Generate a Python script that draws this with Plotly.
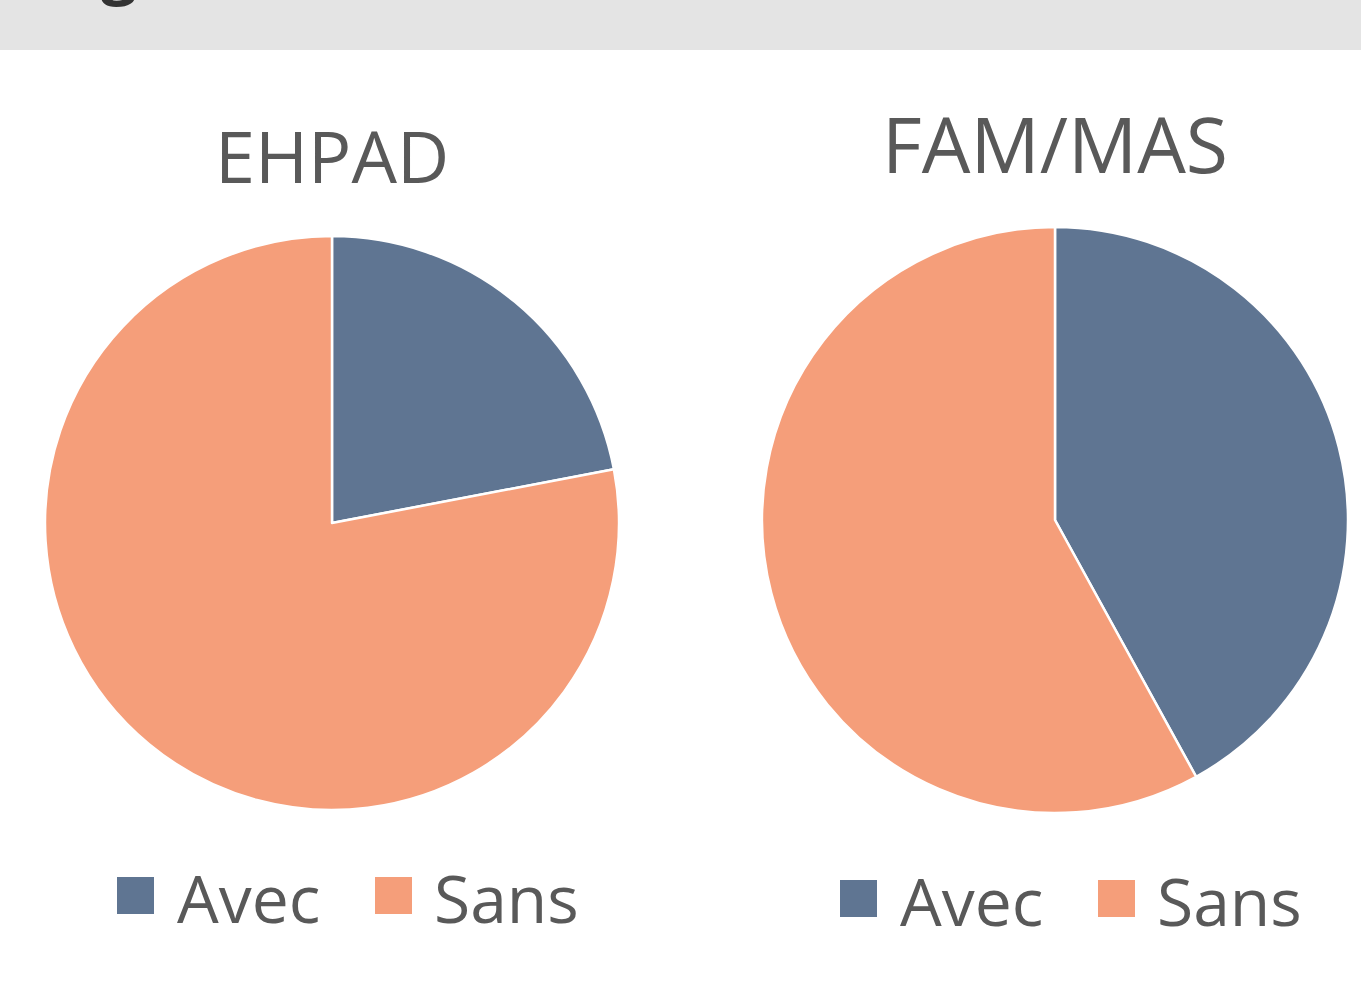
import plotly.graph_objects as go

W, H = 1361, 1002

labels = ["Avec", "Sans"]
titles = ["EHPAD", "FAM/MAS"]
ehpad_values = [22, 78]
fammas_values = [42, 58]
colors = ["#5f7592", "#f59e7a"]
text_color = "#595959"
FONT = "Open Sans"

def px_x(x):
    return x / W

def px_y(y):
    return 1 - y / H

fig = go.Figure()

# pie geometry in pixels: (cx, cy, r)
pies = [
    (titles[0], ehpad_values, (332, 523, 287)),
    (titles[1], fammas_values, (1055, 520, 293)),
]
for name, vals, (cx, cy, r) in pies:
    fig.add_trace(go.Pie(
        labels=labels, values=vals, name=name,
        sort=False, direction="clockwise", rotation=0,
        marker=dict(colors=colors, line=dict(color="white", width=2.5)),
        textinfo="none", hoverinfo="label+percent",
        showlegend=False,
        domain=dict(x=[px_x(cx - r), px_x(cx + r)], y=[px_y(cy + r), px_y(cy - r)]),
    ))

shapes = [
    dict(type="rect", xref="paper", yref="paper", x0=0, x1=1, y0=px_y(50), y1=1.01,
         fillcolor="#e4e4e4", line=dict(width=0), layer="below"),
]
annotations = [
    dict(text="<b>g</b>", x=px_x(119), y=px_y(12), xref="paper", yref="paper",
         xanchor="center", yanchor="bottom", showarrow=False,
         font=dict(family=FONT, size=64, color="#333333")),
    dict(text=titles[0], x=px_x(332), y=px_y(155), xref="paper", yref="paper",
         xanchor="center", yanchor="middle", showarrow=False,
         font=dict(family=FONT, size=72, color=text_color)),
    dict(text=titles[1], x=px_x(1055), y=px_y(143), xref="paper", yref="paper",
         xanchor="center", yanchor="middle", showarrow=False,
         font=dict(family=FONT, size=77, color=text_color)),
]

# manual legends: (square left x, square top y, text left x) per item
legend_pos = [
    [(117, 877, 175), (375, 877, 432)],
    [(840, 880, 898), (1098, 880, 1155)],
]
sq = 37
for items in legend_pos:
    for (sx, sy, tx), lab, col in zip(items, labels, colors):
        shapes.append(dict(type="rect", xref="paper", yref="paper",
                           x0=px_x(sx), x1=px_x(sx + sq), y0=px_y(sy + sq), y1=px_y(sy),
                           fillcolor=col, line=dict(width=0)))
        annotations.append(dict(text=lab, x=px_x(tx), y=px_y(sy + sq / 2 + 1),
                                xref="paper", yref="paper", xanchor="left", yanchor="middle",
                                showarrow=False,
                                font=dict(family=FONT, size=66, color=text_color)))

fig.update_layout(
    width=W, height=H,
    margin=dict(l=0, r=0, t=0, b=0),
    paper_bgcolor="white", plot_bgcolor="white",
    shapes=shapes, annotations=annotations,
)

fig.write_html("out.html",
               config={"displayModeBar": False},
               post_script="document.body.style.margin='0';document.body.style.overflow='hidden';")
